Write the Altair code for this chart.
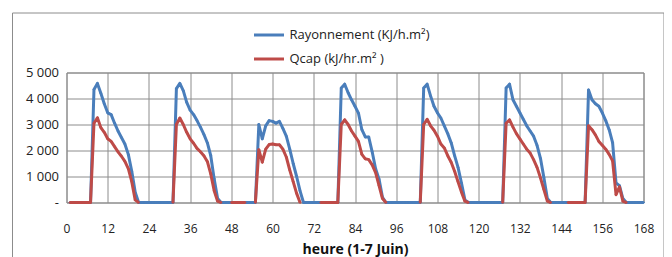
import altair as alt
import pandas as pd

N = None

S_RAY = "Rayonnement (KJ/h.m²)"
S_QCAP = "Qcap (kJ/hr.m²  )"

# hourly values, hours 1..168 (one list of 24 values per day, 1-7 June)
ray_j1 = [0, 0, 0, 0, 0, 0, 0, 4350, 4580, 4200, 3800, 3450, 3380, 3050, 2750, 2500, 2250, 1850, 1200, 400, 0, 0, 0, 0]
ray_j2 = [0, 0, 0, 0, 0, 0, 0, 4380, 4580, 4300, 3850, 3550, 3380, 3150, 2900, 2620, 2300, 1800, 900, 150, 0, 0, 0, 0]
ray_j3 = [0, 0, 0, 0, 0, 0, 0, 3000, 2450, 2950, 3150, 3120, 3050, 3120, 2850, 2550, 2050, 1500, 1000, 450, 0, 0, 0, 0]
ray_j4 = [0, 0, 0, 0, 0, 0, 0, 4400, 4550, 4220, 3950, 3700, 3440, 2800, 2520, 2520, 1950, 1300, 900, 200, 0, 0, 0, 0]
ray_j5 = [0, 0, 0, 0, 0, 0, 0, 4400, 4550, 4100, 3700, 3450, 3250, 2950, 2650, 2300, 1800, 1350, 750, 100, 0, 0, 0, 0]
ray_j6 = [0, 0, 0, 0, 0, 0, 0, 4400, 4550, 3950, 3700, 3450, 3200, 2950, 2750, 2550, 2200, 1700, 950, 150, 0, 0, 0, 0]
ray_j7 = [0, 0, 0, 0, 0, 0, 0, 4330, 3950, 3800, 3700, 3450, 3150, 2800, 2300, 750, 650, 150, 0, 0, 0, 0, 0, 0]

qcap_j1 = [0, 0, 0, 0, 0, 0, 0, 3050, 3260, 2880, 2700, 2450, 2350, 2150, 1950, 1780, 1580, 1300, 800, 100, 0, N, N, N]
qcap_j2 = [N, N, N, N, N, N, 0, 3000, 3250, 3000, 2700, 2450, 2280, 2080, 1950, 1800, 1580, 1100, 450, 50, 0, N, N, 0]
qcap_j3 = [0, 0, 0, 0, N, N, 0, 2030, 1550, 2050, 2230, 2250, 2220, 2220, 2050, 1750, 1250, 800, 350, 0, N, N, N, N]
qcap_j4 = [N, 0, 0, 0, 0, 0, 0, 3000, 3180, 3000, 2750, 2550, 2350, 1850, 1680, 1650, 1450, 1150, 650, 150, 0, N, N, N]
qcap_j5 = [N, N, N, N, N, N, 0, 3000, 3200, 2950, 2780, 2550, 2250, 2100, 1800, 1550, 1200, 800, 400, 50, 0, N, N, N]
qcap_j6 = [N, N, N, N, N, N, 0, 3050, 3180, 2900, 2650, 2450, 2250, 2050, 1900, 1650, 1350, 950, 500, 50, 0, N, N, N]
qcap_j7 = [N, 0, 0, 0, 0, 0, 0, 2950, 2800, 2600, 2350, 2200, 2050, 1850, 1600, 300, 600, 50, 0, N, N, N, N, N]

ray = ray_j1 + ray_j2 + ray_j3 + ray_j4 + ray_j5 + ray_j6 + ray_j7
qcap = qcap_j1 + qcap_j2 + qcap_j3 + qcap_j4 + qcap_j5 + qcap_j6 + qcap_j7
hours = list(range(1, 169))

x_ticks = list(range(0, 169, 12))
y_ticks = [0, 1000, 2000, 3000, 4000, 5000]

df = pd.DataFrame({
    "heure": hours + hours,
    "valeur": ray + qcap,
    "serie": [S_RAY] * 168 + [S_QCAP] * 168,
})

FONT = "Open Sans"
GRID = "#8c8c8c"

color = alt.Color(
    "serie:N",
    scale=alt.Scale(domain=[S_RAY, S_QCAP], range=["#4a7ebb", "#be4b48"]),
    legend=alt.Legend(
        title=None,
        orient="none",
        legendX=186,
        legendY=-54,
        direction="vertical",
        symbolType="stroke",
        symbolSize=900,
        symbolStrokeWidth=3,
        labelFont=FONT,
        labelFontSize=13,
        labelColor="#222222",
        labelOffset=4,
        rowPadding=0,
    ),
)

x = alt.X(
    "heure:Q",
    scale=alt.Scale(domain=[0, 168], nice=False),
    axis=alt.Axis(
        values=x_ticks,
        title="heure (1-7 Juin)",
        titleFont=FONT,
        titleFontSize=14,
        titleFontWeight="bold",
        titleColor="#111111",
        titlePadding=8,
        labelFont=FONT,
        labelFontSize=12,
        labelColor="#222222",
        labelPadding=21,
        ticks=False,
        domain=False,
        gridColor=GRID,
        labelFlush=False,
    ),
)
y = alt.Y(
    "valeur:Q",
    scale=alt.Scale(domain=[0, 5000], nice=False),
    axis=alt.Axis(
        values=y_ticks,
        title=None,
        labelExpr="datum.value == 0 ? '-  ' : replace(format(datum.value, ','), ',', ' ')",
        labelFont=FONT,
        labelFontSize=13,
        labelColor="#222222",
        labelPadding=8,
        ticks=False,
        domain=False,
        gridColor=GRID,
    ),
)

base = alt.Chart(df)

def series_layer(name):
    return base.transform_filter(alt.datum.serie == name).mark_line(
        strokeWidth=3,
        strokeJoin="round",
        invalid="break-paths-filter-domains",
        point=alt.OverlayMarkDef(size=10, filled=True, shape="diamond"),
    ).encode(x=x, y=y, color=color)

border = alt.Chart(pd.DataFrame({"b": [0]})).mark_rect(
    fillOpacity=0, stroke="#8c8c8c", strokeWidth=1
).encode(
    x=alt.value(-54), x2=alt.value(597.5), y=alt.value(-59.5), y2=alt.value(240)
)

chart = alt.layer(border, series_layer(S_RAY), series_layer(S_QCAP)).properties(
    width=577,
    height=130,
    autosize=alt.AutoSizeParams(type="none"),
    padding={"left": 58.5, "top": 64.5, "right": 20.5, "bottom": 70},
    background="white",
).configure_view(stroke=GRID, strokeWidth=1)

chart.save("out.html", embed_options={"renderer": "svg", "actions": False})
